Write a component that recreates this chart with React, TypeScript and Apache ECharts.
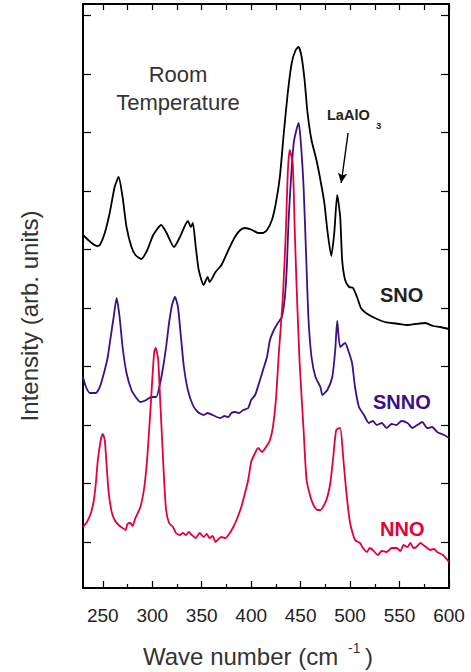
import React, { useEffect, useRef } from "react";
import * as echarts from "echarts";

// Wavenumber (cm^-1), intensity (arb. units)
const snoData: number[][] = [
  [230, 353], [244, 342], [247, 343], [252, 355], [257, 375], [262, 401], [266, 411], [270, 391],
  [274, 361], [279, 341], [283, 333], [289, 329], [295, 338], [301, 353], [309, 363], [314, 356],
  [322, 341], [328, 351], [336, 367], [339, 361], [341, 365], [344, 341], [347, 318], [352, 303],
  [356, 311], [358, 306], [364, 316], [370, 323], [377, 338], [383, 350], [389, 358], [394, 360],
  [401, 358], [407, 355], [412, 355], [416, 358], [421, 368], [425, 385], [429, 411], [433, 455],
  [437, 495], [441, 525], [445, 538], [448, 541], [451, 531], [454, 508], [457, 475], [461, 448],
  [466, 428], [470, 408], [474, 385], [477, 358], [481, 332], [484, 355], [487, 393], [490, 371],
  [492, 328], [495, 308], [499, 301], [503, 300], [507, 291], [511, 280], [516, 275], [525, 270],
  [535, 266], [542, 265], [550, 264], [558, 263], [566, 264], [576, 265], [584, 262], [591, 261],
  [600, 259],
];

const snnoData: number[][] = [
  [230, 211], [233, 201], [237, 195], [243, 195], [247, 201], [252, 218], [255, 231], [258, 251],
  [261, 271], [264, 290], [267, 271], [270, 241], [274, 215], [279, 198], [284, 190], [288, 186],
  [294, 188], [299, 191], [304, 191], [308, 205], [311, 221], [314, 241], [317, 265], [320, 283],
  [323, 291], [326, 281], [329, 251], [332, 221], [336, 198], [341, 183], [346, 176], [352, 173],
  [356, 175], [361, 173], [365, 171], [369, 170], [373, 172], [377, 171], [380, 175], [384, 176],
  [388, 175], [392, 178], [397, 180], [400, 188], [404, 193], [408, 205], [412, 218], [416, 231],
  [419, 248], [423, 258], [427, 265], [431, 271], [434, 290], [436, 320], [438, 371], [443, 445],
  [448, 465], [450, 448], [453, 401], [456, 320], [458, 268], [461, 231], [465, 211], [470, 201],
  [472, 193], [477, 198], [482, 211], [485, 238], [487, 267], [490, 241], [495, 245], [498, 238],
  [502, 225], [505, 201], [509, 181], [514, 173], [519, 165], [523, 167], [527, 163], [532, 165],
  [537, 160], [542, 164], [547, 163], [552, 167], [558, 165], [563, 160], [568, 163], [573, 166],
  [578, 160], [583, 161], [588, 156], [595, 153], [600, 150],
];

const nnoData: number[][] = [
  [230, 61], [234, 66], [238, 75], [241, 88], [243, 105], [245, 128], [248, 148], [250, 154],
  [252, 148], [254, 121], [256, 95], [259, 76], [262, 68], [266, 63], [270, 60], [273, 58],
  [275, 64], [278, 65], [280, 62], [283, 70], [288, 81], [292, 101], [295, 131], [298, 175],
  [300, 208], [302, 236], [303.5, 240], [306, 228], [308, 188], [310, 148], [312, 108], [314, 78],
  [317, 65], [321, 61], [324, 55], [328, 53], [331, 55], [334, 53], [337, 56], [340, 53],
  [344, 50], [348, 55], [352, 51], [355, 54], [358, 50], [361, 52], [364, 46], [367, 49],
  [370, 51], [374, 50], [377, 53], [382, 61], [386, 70], [390, 81], [394, 96], [397, 108],
  [400, 126], [403, 133], [407, 140], [411, 136], [415, 141], [419, 148], [422, 161], [425, 188],
  [428, 235], [432, 290], [435, 355], [437, 415], [439, 438], [442, 425], [444, 360], [446, 300],
  [449, 225], [453, 158], [456, 108], [460, 91], [463, 83], [467, 78], [470, 78], [476, 88],
  [480, 105], [483, 131], [486, 158], [490, 160], [493, 131], [496, 98], [500, 65], [505, 48],
  [510, 45], [513, 40], [517, 36], [520, 40], [523, 38], [528, 33], [532, 37], [537, 36],
  [542, 40], [547, 40], [551, 37], [554, 43], [558, 41], [561, 45], [564, 40], [567, 41],
  [571, 45], [574, 43], [578, 40], [581, 38], [585, 39], [588, 36], [594, 33], [600, 26],
];

const xMajorTicks = [250, 300, 350, 400, 450, 500, 550, 600];
const xMinorTicks = [275, 325, 375, 425, 475, 525, 575];
const xAllTicks = [250, 275, 300, 325, 350, 375, 400, 425, 450, 475, 500, 525, 550, 575, 600];
const yTicks = [46, 104.5, 163, 221.5, 280, 338.5, 397, 455.5, 514, 572.5];

const X_MIN = 230;
const X_MAX = 600;
const Y_MIN = 0;
const Y_MAX = 584;

const BLACK = "#000000";
const PURPLE = "#3b1088";
const RED = "#e4003a";
const FONT = "'Liberation Sans', Arial, Helvetica, sans-serif";

export default function App() {
  const ref = useRef<HTMLDivElement>(null);

  useEffect(() => {
    if (!ref.current) return;
    const chart = echarts.init(ref.current, undefined, { renderer: "svg" });

    const baseX = {
      type: "value" as const,
      min: X_MIN,
      max: X_MAX,
      splitLine: { show: false },
    };
    const baseY = {
      type: "value" as const,
      min: Y_MIN,
      max: Y_MAX,
      splitLine: { show: false },
    };

    chart.setOption({
      animation: false,
      backgroundColor: "#ffffff",
      grid: { left: 83, right: 22, top: 4, bottom: 84, containLabel: false },
      xAxis: [
        {
          ...baseX,
          position: "bottom",
          axisLine: { show: true, onZero: false, lineStyle: { color: BLACK, width: 2 } },
          axisTick: { show: true, inside: true, length: 7, customValues: xMajorTicks, lineStyle: { color: BLACK, width: 1.2 } },
          axisLabel: {
            show: true,
            customValues: xMajorTicks,
            margin: 18,
            color: "#222",
            fontSize: 19,
            fontFamily: FONT,
          },
        },
        {
          ...baseX,
          position: "bottom",
          axisLine: { show: false },
          axisTick: { show: true, inside: true, length: 4, customValues: xMinorTicks, lineStyle: { color: BLACK, width: 1.2 } },
          axisLabel: { show: false },
        },
        {
          ...baseX,
          position: "top",
          axisLine: { show: true, onZero: false, lineStyle: { color: BLACK, width: 2 } },
          axisTick: { show: true, inside: true, length: 6, customValues: xAllTicks, lineStyle: { color: BLACK, width: 1.2 } },
          axisLabel: { show: false },
        },
      ],
      yAxis: [
        {
          ...baseY,
          position: "left",
          axisLine: { show: true, onZero: false, lineStyle: { color: BLACK, width: 2 } },
          axisTick: { show: true, inside: true, length: 8, customValues: yTicks, lineStyle: { color: BLACK, width: 1.2 } },
          axisLabel: { show: false },
        },
        {
          ...baseY,
          position: "right",
          axisLine: { show: true, onZero: false, lineStyle: { color: BLACK, width: 2 } },
          axisTick: { show: true, inside: true, length: 8, customValues: yTicks, lineStyle: { color: BLACK, width: 1.2 } },
          axisLabel: { show: false },
        },
      ],
      series: [
        {
          name: "SNO",
          type: "line",
          data: snoData,
          showSymbol: false,
          smooth: 0.2,
          lineStyle: { color: BLACK, width: 1.8 },
          markLine: {
            silent: true,
            symbol: ["none", "arrow"],
            symbolSize: [7, 10],
            label: { show: false },
            lineStyle: { color: BLACK, width: 1.4, type: "solid" },
            data: [[{ coord: [498, 455] }, { coord: [491, 405] }]],
          },
        },
        {
          name: "SNNO",
          type: "line",
          data: snnoData,
          showSymbol: false,
          smooth: 0.2,
          lineStyle: { color: PURPLE, width: 1.8 },
        },
        {
          name: "NNO",
          type: "line",
          data: nnoData,
          showSymbol: false,
          smooth: 0.2,
          lineStyle: { color: RED, width: 1.8 },
        },
      ],
      graphic: [
        { type: "text", x: 178, y: 74, style: { text: "Room", fontSize: 22, fontFamily: FONT, fill: "#333", align: "center", verticalAlign: "middle" } },
        { type: "text", x: 178, y: 102, style: { text: "Temperature", fontSize: 22, fontFamily: FONT, fill: "#333", align: "center", verticalAlign: "middle" } },
        { type: "text", x: 327, y: 115, style: { text: "LaAlO", fontSize: 14.5, fontWeight: "bold", fontFamily: FONT, fill: "#222", align: "left", verticalAlign: "middle" } },
        { type: "text", x: 376, y: 125, style: { text: "3", fontSize: 9.5, fontWeight: "bold", fontFamily: FONT, fill: "#222", align: "left", verticalAlign: "middle" } },
        { type: "text", x: 380, y: 295, style: { text: "SNO", fontSize: 20, fontWeight: "bold", fontFamily: FONT, fill: "#231f20", align: "left", verticalAlign: "middle" } },
        { type: "text", x: 373, y: 402, style: { text: "SNNO", fontSize: 20, fontWeight: "bold", fontFamily: FONT, fill: PURPLE, align: "left", verticalAlign: "middle" } },
        { type: "text", x: 380, y: 529, style: { text: "NNO", fontSize: 20, fontWeight: "bold", fontFamily: FONT, fill: RED, align: "left", verticalAlign: "middle" } },
        {
          type: "text", x: 29, y: 316, rotation: Math.PI / 2,
          style: { text: "Intensity (arb. units)", fontSize: 24, fontFamily: FONT, fill: "#333", align: "center", verticalAlign: "middle" },
        },
        { type: "text", x: 143, y: 656, style: { text: "Wave number (cm", fontSize: 24, fontFamily: FONT, fill: "#333", align: "left", verticalAlign: "middle" } },
        { type: "text", x: 348, y: 648, style: { text: "-1", fontSize: 14, fontFamily: FONT, fill: "#333", align: "left", verticalAlign: "middle" } },
        { type: "text", x: 365, y: 656, style: { text: ")", fontSize: 24, fontFamily: FONT, fill: "#333", align: "left", verticalAlign: "middle" } },
      ],
    });

    return () => chart.dispose();
  }, []);

  return <div ref={ref} style={{ width: 471, height: 672, position: "absolute", left: 0, top: 0 }} />;
}
